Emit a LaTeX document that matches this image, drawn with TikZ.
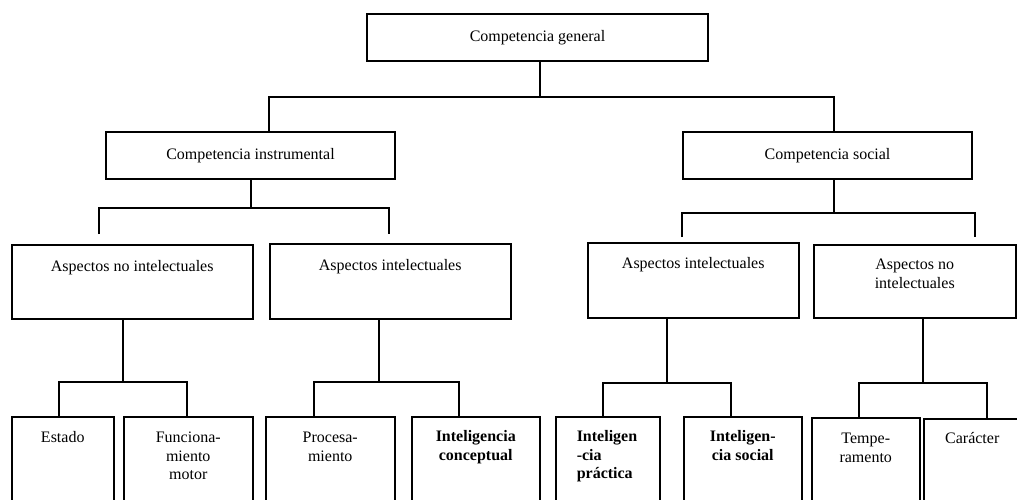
\documentclass[tikz,border=0pt]{standalone}
\usepackage{fontspec}
\setmainfont{Liberation Serif}
% framed cell: width, height, first-baseline offset, text (centred lines)
\newcommand\framedtext[4]{\parbox[t][#2pt][t]{#1pt}{\centering\rule{0pt}{#3pt}#4}}
% framed cell with a left-aligned block indented by #3
\newcommand\framedleft[5]{\parbox[t][#2pt][t]{#1pt}{\raggedright\leftskip=#3pt\rule{0pt}{#4pt}#5}}
\begin{document}
\begin{tikzpicture}[x=1pt,y=-1pt,
  font=\fontsize{16pt}{18.4pt}\selectfont,
  cellbox/.style={draw, line width=1.5pt, inner sep=0pt, anchor=north west},
  headbox/.style={draw, line width=1.5pt, inner sep=0pt, align=center},
  link/.style={line width=1.3pt}]
\useasboundingbox (0,0) rectangle (1017,499);
\clip (0,0) rectangle (1017,499);

% ---- top level
\node[headbox, minimum width=341pt, minimum height=47pt] (G) at (537.5,37.5) {Competencia general};

% ---- first level
\node[headbox, minimum width=289pt, minimum height=47pt] (I) at (250.5,155.5) {Competencia instrumental};
\node[headbox, minimum width=289pt, minimum height=47pt] (S) at (827.5,155.5) {Competencia social};

\coordinate (j0) at (540,97);
\coordinate (jI) at (269,97);
\coordinate (jS) at (834,97);
\draw[link] (G.south -| j0) -- (j0);
\draw[link] (jI |- I.north) -- (jI) -- (jS) -- (jS |- S.north);

% ---- second level
\node[cellbox] (A1) at (11,244) {\framedtext{241}{74}{27}{Aspectos no intelectuales}};
\node[cellbox] (A2) at (269,243) {\framedtext{241}{75}{27}{Aspectos intelectuales}};
\node[cellbox] (A3) at (587,242) {\framedtext{211}{75}{26}{Aspectos intelectuales}};
\node[cellbox] (A4) at (813,244) {\framedtext{202}{73}{25}{Aspectos no\\intelectuales}};

% branches from the first level (open ends above the boxes)
\coordinate (kI) at (251,208);
\coordinate (kIa) at (99,234);
\coordinate (kIb) at (389,234);
\draw[link] (I.south -| kI) -- (kI);
\draw[link] (kIa) -- (kIa |- kI) -- (kIb |- kI) -- (kIb);

\coordinate (kS) at (834,213);
\coordinate (kSa) at (682,237);
\coordinate (kSb) at (975,237);
\draw[link] (S.south -| kS) -- (kS);
\draw[link] (kSa) -- (kSa |- kS) -- (kSb |- kS) -- (kSb);

% ---- third level
\node[cellbox] (B1) at (11,416) {\framedtext{102}{95}{26}{Estado}};
\node[cellbox] (B2) at (123,416) {\framedtext{129}{95}{26}{Funciona-\\miento\\motor}};
\node[cellbox] (B3) at (265,416) {\framedtext{129}{95}{26}{Procesa-\\miento}};
\node[cellbox] (B4) at (411,416) {\framedtext{128}{95}{25}{\bfseries Inteligencia\\conceptual}};
\node[cellbox] (B5) at (555,416) {\framedleft{104}{95}{21}{25}{\bfseries Inteligen\\-cia\\práctica}};
\node[cellbox] (B6) at (683,416) {\framedtext{118}{95}{25}{\bfseries Inteligen-\\cia social}};
\node[cellbox] (B7) at (811,417) {\framedtext{108}{95}{26}{Tempe-\\ramento}};
\node[cellbox] (B8) at (923,418) {\framedtext{97}{95}{25}{Carácter}};

% branches from the second level
\coordinate (m1) at (123,382);
\coordinate (m1a) at (59,382);
\coordinate (m1b) at (187,382);
\draw[link] (A1.south -| m1) -- (m1);
\draw[link] (m1a |- B1.north) -- (m1a) -- (m1b) -- (m1b |- B2.north);

\coordinate (m2) at (379,382);
\coordinate (m2a) at (314,382);
\coordinate (m2b) at (459,382);
\draw[link] (A2.south -| m2) -- (m2);
\draw[link] (m2a |- B3.north) -- (m2a) -- (m2b) -- (m2b |- B4.north);

\coordinate (m3) at (667,383);
\coordinate (m3a) at (603,383);
\coordinate (m3b) at (731,383);
\draw[link] (A3.south -| m3) -- (m3);
\draw[link] (m3a |- B5.north) -- (m3a) -- (m3b) -- (m3b |- B6.north);

\coordinate (m4) at (923,383);
\coordinate (m4a) at (859,383);
\coordinate (m4b) at (987,383);
\draw[link] (A4.south -| m4) -- (m4);
\draw[link] (m4a |- B7.north) -- (m4a) -- (m4b) -- (m4b |- B8.north);
\end{tikzpicture}
\end{document}
